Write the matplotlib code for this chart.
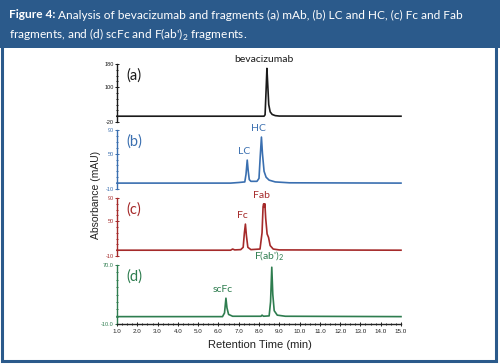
"""Figure 4: bevacizumab and fragment chromatograms, stacked panels."""
import matplotlib
matplotlib.use("Agg")
import matplotlib.pyplot as plt
from matplotlib.patches import Rectangle
from matplotlib.ticker import MultipleLocator, FixedLocator

plt.rcParams["font.family"] = ["Liberation Sans", "DejaVu Sans"]
plt.rcParams["mathtext.fontset"] = "custom"
plt.rcParams["mathtext.rm"] = "Lato"

W, H = 500, 364

# chromatogram traces (time in min, absorbance in mAU)
t_a = [1.0, 8.25, 8.30, 8.35, 8.39, 8.43, 8.48, 8.55, 8.65, 8.8, 9.0, 15.0]
y_a = [0, 0, 5, 90, 165, 110, 40, 15, 6, 2, 0.5, 0]

t_b = [1.0, 6.6, 7.0, 7.3, 7.36, 7.42, 7.47, 7.52, 7.6, 7.9, 8.0, 8.06, 8.12,
       8.17, 8.25, 8.35, 8.5, 8.8, 9.5, 15.0]
y_b = [0, 0, 1, 2, 15, 39, 20, 6, 3, 3, 8, 45, 78, 50, 20, 10, 5, 2, 0.5, 0]

t_c = [1.0, 6.6, 6.7, 6.8, 7.1, 7.22, 7.28, 7.33, 7.38, 7.45, 7.6, 8.05, 8.15,
       8.2, 8.23, 8.26, 8.29, 8.33, 8.4, 8.47, 8.55, 8.7, 9.0, 15.0]
y_c = [0, 0, 2, 0.5, 1, 5, 30, 45, 25, 5, 1, 2, 30, 75, 80, 74, 80, 55, 28, 22,
       8, 2, 0.5, 0]

t_d = [1.0, 6.2, 6.3, 6.37, 6.42, 6.5, 6.7, 8.1, 8.15, 8.22, 8.5, 8.57, 8.63,
       8.68, 8.75, 8.9, 9.3, 15.0]
y_d = [0, 0, 5, 25, 12, 3, 0.5, 0.5, 2, 0.5, 1, 20, 67, 30, 8, 2, 0.5, 0]

x_ticks = [1.0, 2.0, 3.0, 4.0, 5.0, 6.0, 7.0, 8.0, 9.0, 10.0, 11.0, 12.0, 13.0, 14.0, 15.0]

panels = [
    dict(t=t_a, y=y_a, color="#1a1a1a", ylim=(-20, 180), ticks=[-20, 100, 180],
         labels=["-20", "100", "180"], minor=20, tag="(a)", top=64, bottom=122,
         peaks=[(8.39, 165, "bevacizumab")]),
    dict(t=t_b, y=y_b, color="#3a6fb0", ylim=(-10, 90), ticks=[-10, 50, 90],
         labels=["-10", "50", "90"], minor=10, tag="(b)", top=130, bottom=189,
         peaks=[(7.42, 39, "LC"), (8.12, 78, "HC")]),
    dict(t=t_c, y=y_c, color="#a52a2a", ylim=(-10, 90), ticks=[-10, 50, 90],
         labels=["-10", "50", "90"], minor=10, tag="(c)", top=198, bottom=256,
         peaks=[(7.33, 45, "Fc"), (8.26, 80, "Fab")]),
    dict(t=t_d, y=y_d, color="#2e7d4f", ylim=(-10, 70), ticks=[-10, 70],
         labels=["-10.0", "70.0"], minor=10, tag="(d)", top=265, bottom=324,
         peaks=[(6.37, 25, "scFc"), (8.63, 67, "F(ab')$_2$")]),
]

fig = plt.figure(figsize=(W / 100, H / 100), dpi=100)
fig.patch.set_facecolor("white")

# header band and frame
blue = "#2b5a8b"
fig.patches.append(Rectangle((0, 1 - 48 / H), 1, 48 / H, transform=fig.transFigure,
                             facecolor=blue, edgecolor="none", zorder=0))
fig.patches.append(Rectangle((2 / W, 3 / H), 494 / W, (H - 4) / H, transform=fig.transFigure,
                             facecolor="none", edgecolor=blue, linewidth=2.2, zorder=0))

renderer = fig.canvas.get_renderer()
hdr_font = ["Lato", "DejaVu Sans"]
hdr_size = 8.6
bold = fig.text(9 / W, 1 - 15 / H, "Figure 4:", color="white", fontsize=hdr_size,
                fontweight="bold", family=hdr_font, va="center")
bb = bold.get_window_extent(renderer)
fig.text(bb.x1 / W + 3 / W, 1 - 15 / H,
         "Analysis of bevacizumab and fragments (a) mAb, (b) LC and HC, (c) Fc and Fab",
         color="white", fontsize=hdr_size, family=hdr_font, va="center")
fig.text(9 / W, 1 - 35 / H, "fragments, and (d) scFc and F(ab')$_2$ fragments.",
         color="white", fontsize=hdr_size, family=hdr_font, va="center")

x0, x1 = 117, 401
for i, p in enumerate(panels):
    ax = fig.add_axes([x0 / W, 1 - p["bottom"] / H, (x1 - x0) / W, (p["bottom"] - p["top"]) / H])
    ax.patch.set_alpha(0)
    ax.plot(p["t"], p["y"], color=p["color"], linewidth=1.2, clip_on=False)
    ax.set_xlim(1.0, 15.0)
    ax.set_ylim(*p["ylim"])
    for s in ("top", "right"):
        ax.spines[s].set_visible(False)
    ax.spines["left"].set_color(p["color"])
    ax.spines["left"].set_linewidth(1.0)
    ax.yaxis.set_major_locator(FixedLocator(p["ticks"]))
    ax.set_yticklabels(p["labels"])
    ax.yaxis.set_minor_locator(MultipleLocator(p["minor"]))
    ax.tick_params(axis="y", which="both", direction="inout", colors=p["color"],
                   labelsize=4, pad=1, length=3, width=0.7)
    ax.tick_params(axis="y", which="minor", length=2)

    if i < len(panels) - 1:
        ax.spines["bottom"].set_visible(False)
        ax.set_xticks([])
    else:
        ax.spines["bottom"].set_color("#222222")
        ax.spines["bottom"].set_linewidth(1.0)
        ax.set_xticks(x_ticks)
        ax.set_xticklabels([f"{v:.1f}" for v in x_ticks])
        ax.xaxis.set_minor_locator(MultipleLocator(0.25))
        ax.tick_params(axis="x", which="both", direction="inout", colors="#222222",
                       labelsize=4.5, pad=2, length=3, width=0.7)
        ax.tick_params(axis="x", which="minor", length=2)

    ax.text(0.033, 1 - 4 / (p["bottom"] - p["top"]), p["tag"], transform=ax.transAxes,
            color=p["color"], fontsize=10.5, family=hdr_font, va="top", ha="left")
    for px_t, px_y, lab in p["peaks"]:
        ax.annotate(lab, (px_t, px_y), xytext=(-2, 3), textcoords="offset points",
                    ha="center", va="bottom", fontsize=7.5, color=p["color"],
                    family=hdr_font, annotation_clip=False)

fig.text(96 / W, 1 - 195 / H, "Absorbance (mAU)", rotation=90, fontsize=7.5,
         ha="center", va="center", color="#222222")
fig.text(260 / W, 1 - 345 / H, "Retention Time (min)", fontsize=8,
         ha="center", va="center", color="#222222")

fig.savefig("out.png", dpi=100)
